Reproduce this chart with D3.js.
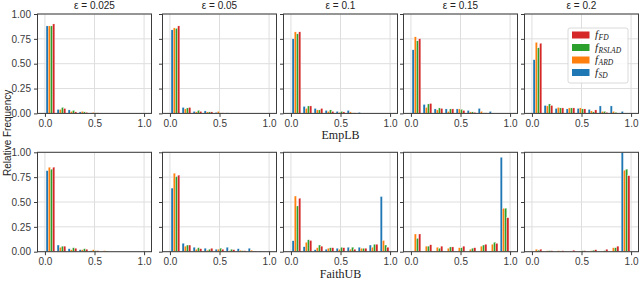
<!DOCTYPE html>
<html>
<head>
<meta charset="utf-8">
<script src="https://cdn.jsdelivr.net/npm/d3@7"></script>
<style>
    body { margin: 0; background: #fff; }
    text { font-family: "Liberation Sans", Arial, sans-serif; }
</style>
</head>
<body>
<script>
// Histogram bins (9 bins between 0 and 1)
var binEdges = [0, 0.1111, 0.2222, 0.3333, 0.4444, 0.5556, 0.6667, 0.7778, 0.8889, 1.0];
var epsilons = ["ε = 0.025", "ε = 0.05", "ε = 0.1", "ε = 0.15", "ε = 0.2"];
var xTicks = [0.0, 0.5, 1.0];
var yTicks = [0.00, 0.25, 0.50, 0.75, 1.00];
var rowLabels = ["EmpLB", "FaithUB"];
var seriesNames = ["SD", "ARD", "RSLAD", "FD"];
var seriesColors = ["#1f77b4", "#ff7f0e", "#2ca02c", "#d62728"];

// EmpLB relative frequencies, one list per epsilon
var empSD = [
    [0.88, 0.04, 0.035, 0.015, 0.005, 0, 0, 0, 0],
    [0.84, 0.06, 0.02, 0.025, 0.01, 0.005, 0, 0, 0],
    [0.75, 0.07, 0.05, 0.03, 0.02, 0.03, 0.01, 0, 0],
    [0.64, 0.09, 0.045, 0.045, 0.045, 0.03, 0.05, 0.02, 0],
    [0.54, 0.08, 0.05, 0.045, 0.05, 0.04, 0.075, 0.075, 0.02]
];
var empARD = [
    [0.88, 0.04, 0.02, 0.02, 0.01, 0, 0, 0, 0],
    [0.86, 0.045, 0.015, 0.015, 0.02, 0, 0, 0, 0],
    [0.82, 0.05, 0.035, 0.02, 0.01, 0.015, 0, 0, 0],
    [0.77, 0.06, 0.035, 0.02, 0.045, 0.015, 0.02, 0, 0],
    [0.715, 0.075, 0.06, 0.055, 0.055, 0.025, 0.02, 0.02, 0]
];
var empRSLAD = [
    [0.88, 0.06, 0.03, 0.015, 0.005, 0, 0, 0, 0],
    [0.855, 0.055, 0.03, 0.015, 0.005, 0, 0, 0, 0],
    [0.80, 0.075, 0.035, 0.035, 0.02, 0.005, 0, 0, 0],
    [0.73, 0.095, 0.055, 0.045, 0.04, 0.015, 0.005, 0, 0],
    [0.66, 0.095, 0.055, 0.055, 0.045, 0.015, 0.02, 0.01, 0]
];
var empFD = [
    [0.90, 0.05, 0.015, 0.01, 0.005, 0, 0, 0, 0],
    [0.88, 0.06, 0.02, 0.015, 0.005, 0, 0, 0, 0],
    [0.82, 0.075, 0.05, 0.02, 0.015, 0.005, 0, 0, 0],
    [0.75, 0.10, 0.05, 0.045, 0.03, 0.01, 0.005, 0, 0],
    [0.705, 0.08, 0.055, 0.055, 0.045, 0.035, 0.01, 0, 0]
];

// FaithUB relative frequencies, one list per epsilon
var faithSD = [
    [0.815, 0.067, 0.03, 0.02, 0.01, 0, 0, 0, 0],
    [0.64, 0.085, 0.045, 0.035, 0.025, 0.045, 0.03, 0.035, 0.005],
    [0.11, 0.05, 0.02, 0.025, 0.035, 0.045, 0.045, 0.067, 0.555],
    [0, 0, 0, 0, 0, 0, 0, 0.005, 0.95],
    [0, 0, 0, 0, 0, 0, 0, 0, 1.0]
];
var faithARD = [
    [0.85, 0.045, 0.02, 0.02, 0.02, 0.01, 0, 0, 0],
    [0.79, 0.056, 0.025, 0.015, 0.025, 0.01, 0.015, 0.015, 0],
    [0.56, 0.095, 0.04, 0.035, 0.025, 0.025, 0.035, 0.045, 0.113],
    [0.178, 0.056, 0.045, 0.035, 0.04, 0.025, 0.056, 0.075, 0.437],
    [0.025, 0.01, 0.01, 0, 0.005, 0.01, 0.005, 0.04, 0.82]
];
var faithRSLAD = [
    [0.83, 0.056, 0.04, 0.03, 0.01, 0.005, 0, 0, 0],
    [0.755, 0.067, 0.04, 0.025, 0.035, 0.025, 0.01, 0.005, 0],
    [0.46, 0.12, 0.067, 0.04, 0.045, 0.045, 0.035, 0.075, 0.067],
    [0.134, 0.056, 0.035, 0.048, 0.04, 0.035, 0.067, 0.095, 0.437],
    [0.015, 0.01, 0.005, 0, 0.01, 0.015, 0.01, 0.04, 0.83]
];
var faithFD = [
    [0.85, 0.056, 0.035, 0.025, 0.01, 0, 0, 0, 0],
    [0.77, 0.067, 0.03, 0.035, 0.025, 0.02, 0.01, 0.005, 0],
    [0.537, 0.113, 0.056, 0.04, 0.04, 0.025, 0.035, 0.075, 0.045],
    [0.178, 0.07, 0.056, 0.048, 0.056, 0.04, 0.075, 0.084, 0.342],
    [0.025, 0.01, 0.01, 0.015, 0.01, 0.02, 0.025, 0.056, 0.765]
];

var rows = [
    [empSD, empARD, empRSLAD, empFD],
    [faithSD, faithARD, faithRSLAD, faithFD]
];

// Layout of the panels
var width = 640, height = 281;
var panelLeft = [37.5, 162.5, 283.5, 403.5, 524.5];
var panelWidth = 114;
var rowTop = [14, 152.3];
var panelHeight = 99.4;

var svg = d3.select("body").append("svg")
    .attr("width", width)
    .attr("height", height);

var gridColor = "#dedede";
var spineColor = "#3c3c3c";
var textColor = "#3a3a3a";

rows.forEach(function (series, r)
{
    for (var p = 0; p < 5; p++)
    {
        var x = d3.scaleLinear().domain([-0.075, 1.075]).range([panelLeft[p], panelLeft[p] + panelWidth]);
        var y = d3.scaleLinear().domain([0, 1]).range([rowTop[r] + panelHeight, rowTop[r]]);
        var g = svg.append("g");

        // grid
        g.selectAll(".vgrid").data(xTicks).enter().append("line")
            .attr("x1", function (d) { return x(d); })
            .attr("x2", function (d) { return x(d); })
            .attr("y1", y(0)).attr("y2", y(1))
            .style("stroke", gridColor).style("stroke-width", 1);
        g.selectAll(".hgrid").data(yTicks).enter().append("line")
            .attr("x1", x.range()[0]).attr("x2", x.range()[1])
            .attr("y1", function (d) { return y(d); })
            .attr("y2", function (d) { return y(d); })
            .style("stroke", gridColor).style("stroke-width", 1);

        // bars: 4 series side by side inside each bin
        series.forEach(function (s, k)
        {
            var vals = s[p];
            g.selectAll(".bar" + k).data(vals).enter().append("rect")
                .attr("x", function (d, i)
                {
                    var bw = binEdges[i + 1] - binEdges[i];
                    var left = binEdges[i] + 0.1 * bw + k * 0.2 * bw;
                    return x(left);
                })
                .attr("width", function (d, i)
                {
                    var bw = binEdges[i + 1] - binEdges[i];
                    return x(0.2 * bw) - x(0);
                })
                .attr("y", function (d) { return y(d); })
                .attr("height", function (d) { return y(0) - y(d); })
                .style("fill", seriesColors[k])
                .style("stroke", "#fff")
                .style("stroke-width", 0.3);
        });

        // spines
        g.append("rect")
            .attr("x", x.range()[0]).attr("y", y(1))
            .attr("width", panelWidth).attr("height", panelHeight)
            .style("fill", "none")
            .style("stroke", spineColor)
            .style("stroke-width", 1);

        // x axis
        var xAxis = d3.axisBottom(x).tickValues(xTicks).tickFormat(d3.format(".1f")).tickSizeOuter(0).tickSize(3.5).tickPadding(3);
        var gx = g.append("g").attr("transform", "translate(0," + y(0) + ")").call(xAxis);
        gx.select(".domain").remove();
        gx.selectAll("line").style("stroke", spineColor);
        gx.selectAll("text").style("font-size", "10px").style("fill", textColor)
            .style("font-family", "'Liberation Sans', Arial, sans-serif");

        // y axis
        var yAxis = d3.axisLeft(y).tickValues(yTicks).tickFormat(p == 0 ? d3.format(".2f") : "").tickSizeOuter(0).tickSize(3.5).tickPadding(3);
        var gy = g.append("g").attr("transform", "translate(" + x.range()[0] + ",0)").call(yAxis);
        gy.select(".domain").remove();
        gy.selectAll("line").style("stroke", spineColor);
        gy.selectAll("text").style("font-size", "10px").style("fill", textColor)
            .style("font-family", "'Liberation Sans', Arial, sans-serif");

        // titles above the top row
        if (r == 0)
        {
            svg.append("text")
                .attr("x", panelLeft[p] + panelWidth / 2)
                .attr("y", 9)
                .attr("text-anchor", "middle")
                .style("font-size", "10px")
                .style("fill", "#222")
                .text(epsilons[p]);
        }
    }

    // row label under middle panel
    svg.append("text")
        .attr("x", panelLeft[2] + panelWidth / 2)
        .attr("y", rowTop[r] + panelHeight + 26)
        .attr("text-anchor", "middle")
        .style("font-family", "'Liberation Serif', 'Times New Roman', serif")
        .style("font-size", "12px")
        .style("fill", "#222")
        .text(rowLabels[r]);
});

// y label for the whole figure
svg.append("text")
    .attr("transform", "translate(11," + ((rowTop[0] + rowTop[1] + panelHeight) / 2) + ") rotate(-90)")
    .attr("text-anchor", "middle")
    .style("font-size", "10px")
    .style("fill", "#222")
    .text("Relative Frequency");

// legend inside last top panel
var legend = svg.append("g").attr("transform", "translate(568,28)");
legend.append("rect")
    .attr("width", 60).attr("height", 55)
    .attr("rx", 2)
    .style("fill", "#fff").style("fill-opacity", 0.85)
    .style("stroke", "#d0d0d0").style("stroke-width", 0.8);

var legendOrder = [3, 2, 1, 0];
legendOrder.forEach(function (k, i)
{
    var ly = 7 + i * 12.5;
    legend.append("rect")
        .attr("x", 4).attr("y", ly - 3.5)
        .attr("width", 17.5).attr("height", 7)
        .style("fill", seriesColors[k]);
    var t = legend.append("text")
        .attr("x", 27).attr("y", ly + 3)
        .style("font-family", "'Liberation Serif', 'Times New Roman', serif")
        .style("font-size", "11px")
        .style("fill", "#222");
    t.append("tspan").style("font-style", "italic").text("f");
    t.append("tspan")
        .attr("dx", 0.5)
        .attr("dy", 2)
        .style("font-style", "italic")
        .style("font-size", "7.5px")
        .text(seriesNames[k]);
});
</script>
</body>
</html>
